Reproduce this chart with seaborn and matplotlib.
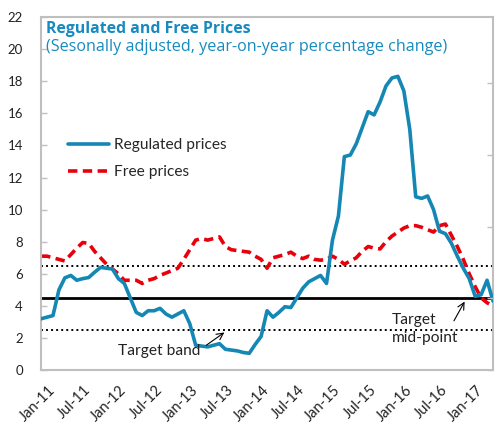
import numpy as np
import pandas as pd
import matplotlib
matplotlib.use("Agg")
import matplotlib.pyplot as plt
import matplotlib.transforms as mtransforms
import seaborn as sns

# monthly observations, Jan-2011 .. May-2017
months = pd.date_range("2011-01-01", "2017-05-01", freq="MS")

regulated = [
    3.2, 3.3, 3.4, 5.0, 5.75, 5.9, 5.6, 5.7, 5.77, 6.1, 6.4, 6.35,
    6.3, 5.7, 5.4, 4.5, 3.6, 3.4, 3.7, 3.7, 3.85, 3.5, 3.3, 3.5,
    3.7, 2.9, 1.55, 1.5, 1.45, 1.55, 1.65, 1.3, 1.25, 1.2, 1.1, 1.05,
    1.6, 2.1, 3.7, 3.3, 3.6, 3.95, 3.9, 4.5, 5.1, 5.5, 5.7, 5.9,
    5.4, 8.1, 9.6, 13.3, 13.4, 14.1, 15.1, 16.1, 15.9, 16.7, 17.7, 18.2,
    18.3, 17.4, 15.0, 10.8, 10.7, 10.85, 10.0, 8.65, 8.5, 7.9, 7.1, 6.35,
    5.7, 4.6, 4.7, 5.6, 4.3,
]
free = [
    7.1, 7.1, 7.0, 6.9, 6.8, 7.2, 7.6, 7.95, 7.9, 7.4, 7.0, 6.6,
    6.3, 6.0, 5.6, 5.6, 5.6, 5.4, 5.6, 5.7, 5.9, 6.05, 6.2, 6.35,
    6.9, 7.5, 8.1, 8.2, 8.1, 8.2, 8.3, 7.7, 7.5, 7.45, 7.4, 7.35,
    7.1, 6.9, 6.35, 7.0, 7.1, 7.2, 7.35, 7.1, 6.95, 7.1, 6.9, 6.85,
    6.9, 7.1, 6.9, 6.6, 6.8, 7.0, 7.4, 7.7, 7.6, 7.55, 8.0, 8.35,
    8.6, 8.85, 9.0, 9.0, 8.9, 8.75, 8.6, 9.0, 9.1, 8.4, 7.7, 6.9,
    6.0, 5.2, 4.5, 4.2, 4.0,
]
tick_labels = ["Jan-11", "Jul-11", "Jan-12", "Jul-12", "Jan-13", "Jul-13",
               "Jan-14", "Jul-14", "Jan-15", "Jul-15", "Jan-16", "Jul-16", "Jan-17"]
target_mid = 4.5
target_band = [2.5, 6.5]

BLUE = "#1487b4"
RED = "#e8000b"
TITLE_BLUE = "#178bbf"
GREY = "#bfbfbf"
TXT = "#222222"

sns.set_theme(style="white")
plt.rcParams["font.family"] = ["Lato", "DejaVu Sans"]

df = pd.DataFrame({"t": np.arange(len(months)),
                   "Regulated prices": regulated,
                   "Free prices": free})

fig = plt.figure(figsize=(4.95, 4.24), dpi=100)
ax = fig.add_axes([0.083, 0.127, 0.913, 0.833])

for lvl in target_band:
    ax.axhline(lvl, color="black", ls=(0, (1, 1.6)), lw=1.4, zorder=1)
ax.axhline(target_mid, color="black", lw=2.0, zorder=1)

sns.lineplot(data=df, x="t", y="Regulated prices", ax=ax, color=BLUE,
             lw=2.6, label="Regulated prices", zorder=3)
sns.lineplot(data=df, x="t", y="Free prices", ax=ax, color=RED,
             lw=2.6, ls=(0, (2.6, 1.5)), label="Free prices", zorder=2)

ax.set_xlim(0, len(months) - 1)
ax.set_ylim(0, 22)
ax.set_yticks(np.arange(0, 23, 2))
ax.set_xticks(np.arange(0, len(tick_labels) * 6, 6))
ax.set_xticklabels(tick_labels, rotation=45, ha="right", va="top",
                   rotation_mode="anchor")
ax.set_xlabel("")
ax.set_ylabel("")
ax.tick_params(axis="both", direction="in", length=4, width=1, color=GREY,
               labelcolor=TXT)
ax.tick_params(axis="y", pad=13, labelsize=9.5)
ax.tick_params(axis="x", pad=9, labelsize=10.5)
shift = mtransforms.ScaledTranslation(5 / 72, 0, fig.dpi_scale_trans)
for lab in ax.get_xticklabels():
    lab.set_transform(lab.get_transform() + shift)
for sp in ax.spines.values():
    sp.set_color(GREY)
    sp.set_linewidth(1.5)

# unlabeled ticks on right side
ax2 = ax.twinx()
ax2.set_ylim(0, 4.92)
ax2.set_yticks([0, 1, 2, 3, 4])
ax2.set_yticklabels([])
ax2.tick_params(direction="in", length=4, width=1, color=GREY)
for sp in ax2.spines.values():
    sp.set_visible(False)

ax.legend(loc="upper left", bbox_to_anchor=(0.06, 0.657), frameon=False,
          fontsize=11.2, handlelength=2.6, handletextpad=0.35,
          labelspacing=0.85, borderpad=0, borderaxespad=0)

ax.text(0.011, 0.955, "Regulated and Free Prices", transform=ax.transAxes,
        color=TITLE_BLUE, fontsize=11.4, fontweight="bold",
        family=["Open Sans", "DejaVu Sans"], va="baseline")
ax.text(0.011, 0.903, "(Sesonally adjusted, year-on-year percentage change)",
        transform=ax.transAxes, color=TITLE_BLUE, fontsize=11.6,
        family=["Open Sans", "DejaVu Sans"], va="baseline")

ax.text(19.9, 1.19, "Target band", ha="center", va="center", fontsize=11.2,
        color=TXT)
ax.annotate("", xy=(31.2, 2.45), xytext=(27.4, 1.45),
            arrowprops=dict(arrowstyle="->", color="black", lw=0.8))
ax.text(59.0, 2.56, "Target\nmid-point", ha="left", va="center", fontsize=11.2,
        linespacing=1.4, color=TXT)
ax.annotate("", xy=(71.45, 4.42), xytext=(69.2, 2.92),
            arrowprops=dict(arrowstyle="->", color="black", lw=0.8))

fig.savefig("out.png", dpi=100)
